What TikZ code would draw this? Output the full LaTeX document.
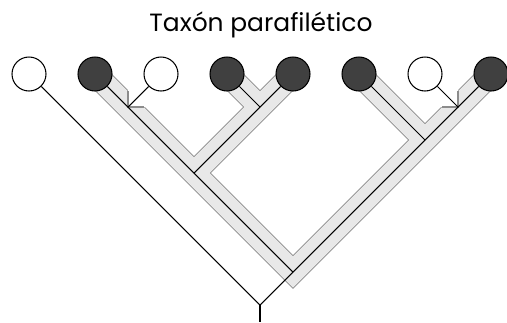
\documentclass[tikz,border=0pt]{standalone}
\usepackage{fontspec}
\newfontfamily\titlefont{Poppins}
\usetikzlibrary{backgrounds}

\definecolor{cladefill}{HTML}{E8E8E8}
\definecolor{cladeedge}{HTML}{8C8C8C}
\definecolor{taxondark}{HTML}{404040}

\begin{document}
\begin{tikzpicture}[x=0.02cm, y=-0.02cm,
    taxon/.style={circle, draw=black, line width=0.6pt, minimum size=0.68cm, inner sep=0pt},
    incl/.style={taxon, fill=taxondark},
    excl/.style={taxon, fill=white},
    branch/.style={black, line width=0.6pt},
    cladeout/.style={cladeedge, line width=0.48cm, line join=miter},
    cladein/.style={cladefill, line width=0.44cm, line join=miter},
    gapedge/.style={cladeedge, line width=0.6pt}]
    \useasboundingbox (0,0) rectangle (507,322);

    \node[font=\titlefont\fontsize{14.2}{17}\selectfont, anchor=base] (title) at (261,31) {Taxón parafilético};

    % terminal taxa
    \node[excl] (sp1) at (29,74) {};
    \node[incl] (sp2) at (95,74) {};
    \node[excl] (sp3) at (161,74) {};
    \node[incl] (sp4) at (227,74) {};
    \node[incl] (sp5) at (293,74) {};
    \node[incl] (sp6) at (359,74) {};
    \node[excl] (sp7) at (425,74) {};
    \node[incl] (sp8) at (491,74) {};

    % internal nodes
    \coordinate (root) at (260,305);
    \coordinate (base) at (260,322);
    \coordinate (nA) at (293,272);
    \coordinate (nB) at (194,173);
    \coordinate (nC) at (128,107);
    \coordinate (nD) at (260,107);
    \coordinate (nE) at (425,140);
    \coordinate (nF) at (458,107);

    % shaded group, kept under the circles
    \begin{scope}[on background layer]
        \foreach \s in {cladeout, cladein} {
            \draw[\s] (sp2.center) -- (nA) -- (sp8.center);
            \draw[\s] (nB) -- (sp5.center);
            \draw[\s] (nD) -- (sp4.center);
            \draw[\s] (nE) -- (sp6.center);
        }
        % cut-outs where the open taxa branch off
        \fill[white] (nC) -- ++(0,-18) -- ++(18,18) -- cycle;
        \fill[white] (nF) -- ++(0,-18) -- ++(-18,18) -- cycle;
        \draw[gapedge] (nC) ++(0,-16) -- (nC) -- ++(16,0);
        \draw[gapedge] (nF) ++(0,-16) -- (nF) -- ++(-16,0);
    \end{scope}

    \draw[branch] (root) -- (sp1);
    \draw[branch] (root) -- (sp8);
    \draw[branch] (nA) -- (sp2);
    \draw[branch] (nB) -- (sp5);
    \draw[branch] (nC) -- (sp3);
    \draw[branch] (nD) -- (sp4);
    \draw[branch] (nE) -- (sp6);
    \draw[branch] (nF) -- (sp7);
    \draw[black, line width=1.2pt] (root) -- (base);
\end{tikzpicture}
\end{document}
